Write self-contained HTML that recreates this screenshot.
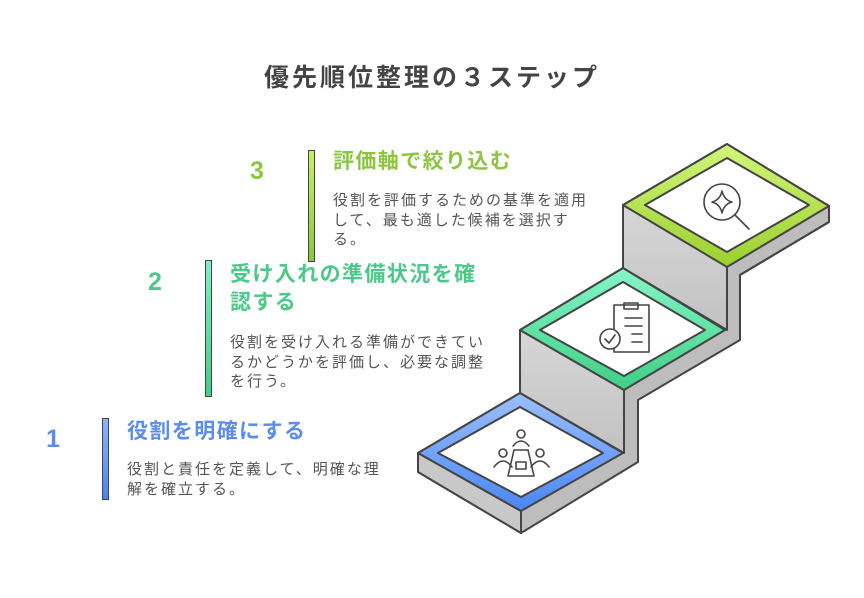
<!DOCTYPE html>
<html><head><meta charset="utf-8"><style>
body{margin:0;background:#fff;width:864px;height:598px;overflow:hidden;position:relative;font-family:"Liberation Sans","Noto Sans CJK JP",sans-serif}
.t{position:absolute;white-space:nowrap}
.h{font-size:21px;font-weight:bold;line-height:28px;letter-spacing:1.4px}
.b{font-size:15px;color:#555;line-height:19.5px;letter-spacing:2px}
.n{font-size:25px;font-weight:bold}
.bar{position:absolute;width:5px;border:1.5px solid #444}
</style></head><body>
<div class="t" style="left:0;width:864px;text-align:center;top:58px;font-size:25px;font-weight:bold;color:#444;letter-spacing:3px">優先順位整理の３ステップ</div>

<div class="t n" style="left:250px;top:157px;color:#8cc63f">3</div>
<div class="bar" style="left:308px;top:150px;height:110px;background:linear-gradient(#c8f06a,#8cc63f)"></div>
<div class="t h" style="left:333px;top:148px;color:#8cc63f">評価軸で絞り込む</div>
<div class="t b" style="left:333px;top:191px">役割を評価するための基準を適用<br>して、最も適した候補を選択す<br>る。</div>

<div class="t n" style="left:148px;top:268px;color:#4cc98a">2</div>
<div class="bar" style="left:205px;top:260px;height:135px;background:linear-gradient(#7ef0c0,#3fcf85)"></div>
<div class="t h" style="left:230px;top:261px;color:#4cc98a">受け入れの準備状況を確<br>認する</div>
<div class="t b" style="left:230px;top:333px">役割を受け入れる準備ができてい<br>るかどうかを評価し、必要な調整<br>を行う。</div>

<div class="t n" style="left:46px;top:425px;color:#5b8def">1</div>
<div class="bar" style="left:102px;top:418px;height:80px;background:linear-gradient(#8ab4ff,#4a86f0)"></div>
<div class="t h" style="left:127px;top:418px;color:#5b8def">役割を明確にする</div>
<div class="t b" style="left:127px;top:460px">役割と責任を定義して、明確な理<br>解を確立する。</div>

<svg width="864" height="598" style="position:absolute;left:0;top:0">
<defs>
<linearGradient id="gw" x1="0" y1="0" x2="0" y2="1"><stop offset="0" stop-color="#d6d6d6"/><stop offset="1" stop-color="#c2c2c2"/></linearGradient>
<linearGradient id="g1" x1="0" y1="0" x2="0" y2="1"><stop offset="0" stop-color="#9cc0ff"/><stop offset="1" stop-color="#4a86f0"/></linearGradient>
<linearGradient id="g2" x1="0" y1="0" x2="0" y2="1"><stop offset="0" stop-color="#86f5c8"/><stop offset="1" stop-color="#3fcf85"/></linearGradient>
<linearGradient id="g3" x1="0" y1="0" x2="0" y2="1"><stop offset="0" stop-color="#d2f57a"/><stop offset="1" stop-color="#9ccf2e"/></linearGradient>
</defs>
<g stroke="#444" stroke-width="2" stroke-linejoin="round">
<polygon points="623,205 727,144 829,206 829,222 740,275 740,340 638,400 638,462 521,533 418,472 418,453 520,393 520,330 623,268" fill="#bdbdbd"/>
<polygon points="623,205 727,266 727,330 623,268" fill="url(#gw)"/>
<polygon points="520,330 624,390 624,453 520,393" fill="url(#gw)"/>
<polygon points="418,453 521,511 521,533 418,472" fill="#c8c8c8"/>
<line x1="829" y1="222" x2="740" y2="275"/>
<line x1="521" y1="511" x2="521" y2="533"/>
<polygon points="727,144 829,206 727,267 623,205" fill="url(#g3)"/>
<polygon points="727,158 809,205 727,252 645,205" fill="#fff"/>
<polygon points="623,268 725,330 624,390 520,330" fill="url(#g2)"/>
<polygon points="623,282 705,330 624,376 540,330" fill="#fff"/>
<polygon points="520,393 623,453 521,511 418,453" fill="url(#g1)"/>
<polygon points="520,407 603,453 521,497 438,453" fill="#fff"/>
</g>
<g stroke="#444" stroke-width="1.6" fill="none" stroke-linecap="round" stroke-linejoin="round">
<circle cx="722" cy="202" r="18"/>
<line x1="735" y1="215" x2="749" y2="229"/>
<path d="M722,191 Q724,200 732,202 Q724,204 722,213 Q720,204 712,202 Q720,200 722,191Z"/>
<rect x="614" y="305" width="35" height="47"/>
<rect x="624" y="303" width="14" height="6"/>
<line x1="625" y1="318" x2="642" y2="318"/><line x1="625" y1="326" x2="642" y2="326"/>
<line x1="632" y1="334" x2="642" y2="334"/><line x1="632" y1="342" x2="642" y2="342"/>
<circle cx="610" cy="339" r="10" fill="#fff"/>
<polyline points="605,339 609,343 615,335"/>
<circle cx="521" cy="434" r="4"/><path d="M513,446 Q521,436 529,446"/>
<circle cx="503" cy="453" r="4"/><path d="M494,467 Q503,455 512,467"/>
<circle cx="540" cy="453" r="4"/><path d="M531,467 Q540,455 549,467"/>
<path d="M514,450 L528,450 L534,476 L508,476Z"/>
<rect x="516" y="462" width="10" height="7"/>
</g>
</svg>
</body></html>
